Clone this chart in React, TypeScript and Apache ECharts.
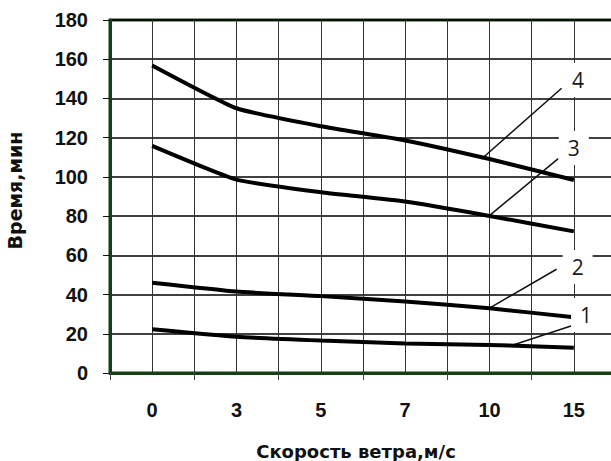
import React, { useEffect, useRef } from "react";
import * as echarts from "echarts";

// Categories (wind speed, m/s)
const categories = ["0", "3", "5", "7", "10", "15"];

// Series values (time, min)
const curve1 = [22.3, 18.5, 16.6, 15.1, 14.3, 12.9];
const curve2 = [46, 41.5, 39.2, 36.4, 33, 28.4];
const curve3 = [115.8, 98.6, 92.2, 87.4, 80.1, 72.2];
const curve4 = [156.8, 135, 125.8, 118.6, 109.1, 98.4];

// Y ticks
const yMin = 0;
const yMax = 180;
const yStep = 20;

// Annotation leader lines in half-category units (x) and minutes (y)
const leader1 = [[9.56, 14.3], [10.95, 24.1]];
const leader2 = [[8.99, 33.0], [10.59, 52.9]];
const leader3 = [[8.99, 80.1], [10.63, 109.3]];
const leader4 = [[8.81, 109.1], [10.71, 145.2]];

// Annotation labels
const labelNames = ["1", "2", "3", "4"];
const labelPoints = [
  [11.29, 29.6],
  [11.09, 54.0],
  [11.0, 114.7],
  [11.1, 149.4],
];

const GREEN = "#173f17";

export default function App() {
  const ref = useRef<HTMLDivElement>(null);

  useEffect(() => {
    if (!ref.current) return;
    const chart = echarts.init(ref.current, undefined, { renderer: "svg" });
    const curveSeries = [curve1, curve2, curve3, curve4].map((d, i) => ({
      name: "curve" + (i + 1),
      type: "line",
      xAxisIndex: 0,
      yAxisIndex: 0,
      data: d,
      symbol: "none",
      smooth: 0.15,
      lineStyle: { color: "#000", width: 4 },
      z: 5,
    }));
    const leaderSeries = [leader1, leader2, leader3, leader4].map((d, i) => ({
      name: "leader" + (i + 1),
      type: "line",
      xAxisIndex: 1,
      yAxisIndex: 0,
      data: d,
      symbol: "none",
      lineStyle: { color: "#111", width: 1.5 },
      z: 4,
    }));
    const labelSeries = {
      name: "labels",
      type: "scatter",
      xAxisIndex: 1,
      yAxisIndex: 0,
      symbol: "rect",
      symbolSize: [30, 34],
      itemStyle: { color: "#fff", opacity: 1 },
      data: labelPoints.map((p, i) => ({ value: p, name: labelNames[i] })),
      label: {
        show: true,
        position: "inside",
        formatter: (p: any) => p.name,
        color: "#1a1a1a",
        opacity: 1,
        fontSize: 21,
        fontFamily: "Open Sans",
      },
      z: 6,
    };

    chart.setOption({
      animation: false,
      backgroundColor: "#fff",
      grid: {
        left: 110,
        top: 20,
        width: 506,
        height: 353,
        show: true,
        borderColor: GREEN,
        borderWidth: 3,
        containLabel: false,
        outerBoundsMode: "none",
      },
      xAxis: [
        {
          type: "category",
          data: categories,
          boundaryGap: true,
          position: "bottom",
          axisLine: { show: true, lineStyle: { color: GREEN, width: 3 } },
          axisTick: { show: true, length: 7, lineStyle: { color: "#444", width: 1 } },
          axisLabel: {
            margin: 27,
            fontSize: 20,
            fontWeight: "bold",
            fontFamily: "Liberation Sans",
            color: "#111",
          },
          splitLine: { show: false },
          name: "Скорость ветра,м/с",
          nameLocation: "middle",
          nameGap: 69,
          nameTextStyle: {
            fontSize: 18,
            fontWeight: "bold",
            fontFamily: "DejaVu Sans",
            color: "#111",
            padding: [0, 14, 0, 0],
          },
          z: 3,
        },
        {
          type: "value",
          min: 0,
          max: 12,
          interval: 1,
          position: "bottom",
          axisLine: { show: false },
          axisTick: { show: false },
          axisLabel: { show: false },
          splitLine: { show: true, lineStyle: { color: "#333", width: 1 } },
        },
      ],
      yAxis: {
        type: "value",
        min: yMin,
        max: yMax,
        interval: yStep,
        axisLine: { show: true, lineStyle: { color: GREEN, width: 3 } },
        axisTick: { show: true, length: 7, lineStyle: { color: "#111", width: 1 } },
        axisLabel: {
          margin: 22,
          fontSize: 20,
          fontWeight: "bold",
          fontFamily: "Liberation Sans",
          color: "#111",
        },
        splitLine: { show: true, lineStyle: { color: "#000", width: 1.5 } },
        name: "Время,мин",
        nameLocation: "middle",
        nameGap: 86,
        nameTextStyle: {
          fontSize: 19,
          fontWeight: "bold",
          fontFamily: "DejaVu Sans",
          color: "#111",
          padding: [0, 0, 0, 12],
        },
      },
      series: [...curveSeries, ...leaderSeries, labelSeries],
    });
    return () => chart.dispose();
  }, []);

  return (
    <div
      ref={ref}
      style={{ position: "fixed", left: 0, top: 0, width: 611, height: 461 }}
    />
  );
}
